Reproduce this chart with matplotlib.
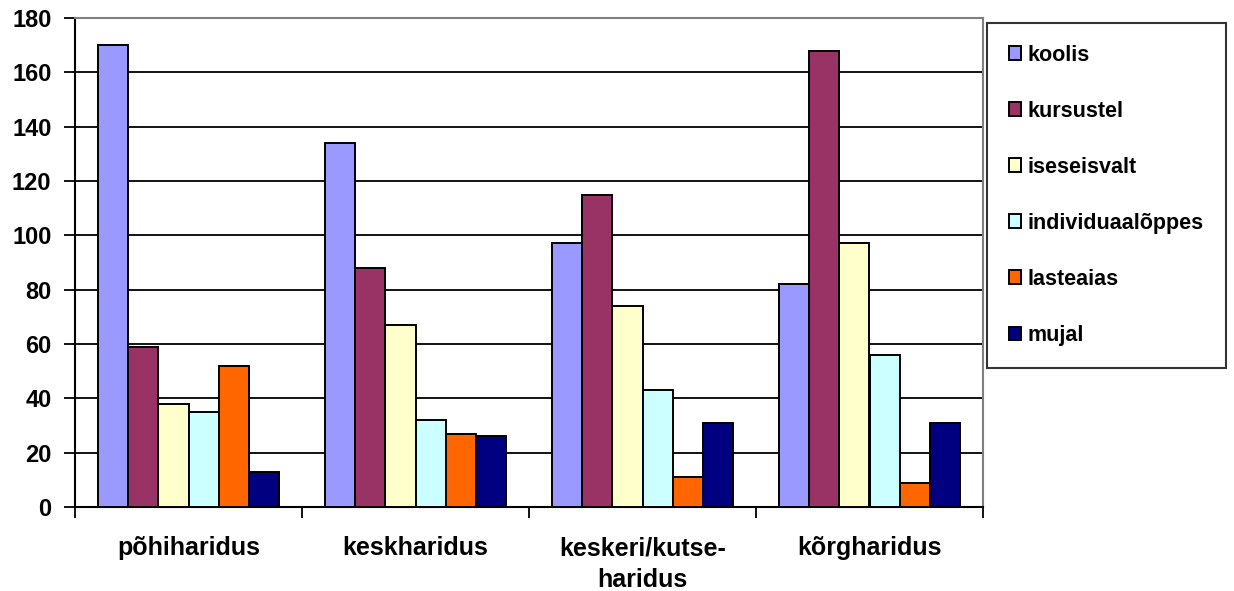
import matplotlib
matplotlib.use("Agg")
import matplotlib.pyplot as plt
import numpy as np

plt.rcParams["font.family"] = ["Liberation Sans", "DejaVu Sans"]
plt.rcParams["font.weight"] = "bold"

categories = ["põhiharidus", "keskharidus", "keskeri/kutse-\nharidus", "kõrgharidus"]
series = ["koolis", "kursustel", "iseseisvalt", "individuaalõppes", "lasteaias", "mujal"]
koolis = [170, 134, 97, 82]
kursustel = [59, 88, 115, 168]
iseseisvalt = [38, 67, 74, 97]
individuaaloppes = [35, 32, 43, 56]
lasteaias = [52, 27, 11, 9]
mujal = [13, 26, 31, 31]
values = [koolis, kursustel, iseseisvalt, individuaaloppes, lasteaias, mujal]
colors = ["#9999FF", "#993366", "#FFFFCC", "#CCFFFF", "#FF6600", "#000080"]
yticks = list(range(0, 181, 20))

fig = plt.figure(figsize=(12.34, 5.91), dpi=100)
ax = fig.add_axes([75 / 1234, 1 - 507 / 591, (983 - 75) / 1234, (507 - 18) / 591])

x = np.arange(len(categories))
width = 1 / 7.5
for i, (name, vals, col) in enumerate(zip(series, values, colors)):
    ax.bar(x + (i - 2.5) * width, vals, width, color=col, edgecolor="black",
           linewidth=1.4, label=name, zorder=3)

ax.set_xlim(-0.5, len(categories) - 0.5)
ax.set_ylim(0, 180)
ax.set_yticks(yticks)
ax.set_yticklabels([str(v) for v in yticks], fontsize=17, fontweight="bold")
ax.yaxis.grid(True, color="black", linewidth=1.3, zorder=0)
ax.set_axisbelow(True)

ax.set_xticks(np.arange(len(categories) + 1) - 0.5)
ax.set_xticklabels([])
ax.set_xticks(x, minor=True)
ax.set_xticklabels(categories, minor=True, fontsize=18, fontweight="bold",
                   linespacing=1.4)
ax.tick_params(axis="x", which="minor", length=0, pad=21)
ax.tick_params(axis="x", which="major", length=8, width=1.3, direction="out")
ax.tick_params(axis="y", length=8, width=1.3, direction="out", pad=9)

for s in ["top", "right"]:
    ax.spines[s].set_color("#808080")
    ax.spines[s].set_linewidth(1.5)
for s in ["left", "bottom"]:
    ax.spines[s].set_color("black")
    ax.spines[s].set_linewidth(1.5)

leg = fig.legend(loc="upper left", bbox_to_anchor=(987 / 1234, 1 - 23 / 591),
                 fancybox=False, frameon=True, fontsize=15.5, handlelength=0.6,
                 handleheight=0.6, handletextpad=0.3, labelspacing=1.63,
                 borderpad=1.0, borderaxespad=0)
leg.get_frame().set_edgecolor("black")
leg.get_frame().set_linewidth(1.5)
for t in leg.get_texts():
    t.set_fontweight("bold")

fig.savefig("out.png", dpi=100)
